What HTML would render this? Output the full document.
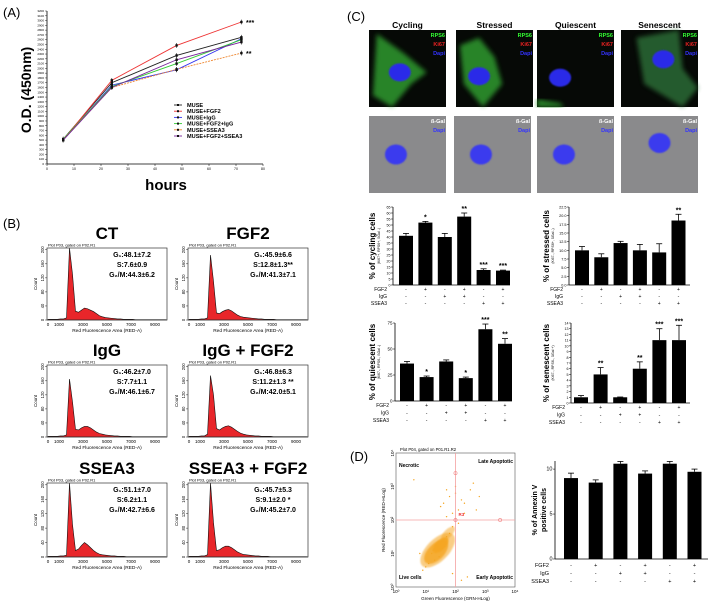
<!DOCTYPE html>
<html><head><meta charset="utf-8">
<style>
html,body{margin:0;padding:0;background:#fff;}
svg{display:block;font-family:"Liberation Sans",Arial,sans-serif;}
</style></head>
<body>
<svg id="fig" width="709" height="606" viewBox="0 0 709 606" xmlns="http://www.w3.org/2000/svg">
<defs>
<filter id="blur2"><feGaussianBlur stdDeviation="2.5"/></filter>
<filter id="blur1"><feGaussianBlur stdDeviation="0.8"/></filter>
</defs>
<text x="3" y="17" font-size="13">(A)</text>
<text x="3" y="228" font-size="13">(B)</text>
<text x="347" y="21" font-size="13">(C)</text>
<text x="350" y="461" font-size="13">(D)</text>
</svg>
<script>
// ===== Panel A data =====
const aHours=[6,24,48,72];
const aMuse=[520,1700,2270,2650];
const aFgf2=[500,1750,2480,2970];
const aIgg=[500,1650,1970,2620];
const aFgf2Igg=[520,1620,2100,2600];
const aSsea3=[510,1600,1980,2320];
const aFgf2Ssea3=[500,1600,2180,2550];
const aSeriesNames=["MUSE","MUSE+FGF2","MUSE+IgG","MUSE+FGF2+IgG","MUSE+SSEA3","MUSE+FGF2+SSEA3"];
const aXTicks=[0,10,20,30,40,50,60,70,80];
// ===== Panel B data (counts per 250-unit bin) =====
const bTitles=["CT","FGF2","IgG","IgG + FGF2","SSEA3","SSEA3 + FGF2"];
const bG1=["48.1±7.2","45.9±6.6","46.2±7.0","46.8±6.3","51.1±7.0","45.7±5.3"];
const bS=["7.6±0.9","12.8±1.3**","7.7±1.1","11.2±1.3 **","6.2±1.1","9.1±2.0  *"];
const bG2=["44.3±6.2","41.3±7.1","46.1±6.7","42.0±5.1","42.7±6.6","45.2±7.0"];
const bHistCT=[2,2,2,2,3,3,6,210,130,25,22,28,34,32,28,24,18,12,9,7,6,5,4,3,3,2,2,2,2,1,1,1,1,1,1,1,1,1,1,1];
const bHistFGF2=[2,2,2,2,3,3,6,185,110,20,18,24,28,30,26,20,14,10,8,7,6,5,4,3,3,2,2,2,2,1,1,1,1,1,1,1,1,1,1,1];
const bHistIgG=[2,2,2,2,3,3,6,165,100,22,20,26,30,30,26,20,14,10,8,6,5,4,3,3,2,2,2,2,1,1,1,1,1,1,1,1,1,1,1,1];
const bHistIgGFGF2=[2,2,2,2,3,3,8,175,120,24,20,26,30,32,28,22,16,11,8,6,5,4,3,3,2,2,2,2,1,1,1,1,1,1,1,1,1,1,1,1];
const bHistSSEA3=[2,2,2,2,3,3,5,210,90,18,22,32,40,34,26,18,12,8,6,5,4,3,3,2,2,2,1,1,1,1,1,1,1,1,1,1,1,1,1,1];
const bHistSSEA3FGF2=[2,2,2,2,3,3,6,205,95,18,20,26,30,30,26,20,14,10,7,6,5,4,3,3,2,2,2,1,1,1,1,1,1,1,1,1,1,1,1,1];
const bXTicks=[0,1000,3000,5000,7000,9000];
const bYTicks=[0,40,80,120,160,200];
// ===== Panel C data =====
const cGroupLabels=["FGF2","IgG","SSEA3"];
const cSigns=[["-","+","-","+","-","+"],["-","-","+","+","-","-"],["-","-","-","-","+","+"]];
const cCycling=[41,52,40,57,12.5,12];
const cCyclingErr=[2,1,3,3,1,0.4];
const cCyclingStars=["","*","","**","***","***"];
const cCyclingTicks=[0,5,10,15,20,25,30,35,40,45,50,55,60,65];
const cStressed=[10,8,12.1,10,9.4,18.6];
const cStressedErr=[1.1,1,0.5,1.7,2.5,1.8];
const cStressedStars=["","","","","","**"];
const cStressedTicks=[0,2.5,5,7.5,10,12.5,15,17.5,20,22.5];
const cQuiescent=[36,23,38,22,69,55];
const cQuiescentErr=[2,1,1.5,1,5,5];
const cQuiescentStars=["","*","","*","***","**"];
const cQuiescentTicks=[0,25,50,75];
const cSenescent=[1,5,1,6,11,11];
const cSenescentErr=[0.3,1.2,0.05,1.2,2,2.6];
const cSenescentStars=["","**","","**","***","***"];
const cSenescentTicks=[0,1,2,3,4,5,6,7,8,9,10,11,12,13,14];
// ===== Panel D data =====
const dAnnexin=[9,8.5,10.6,9.5,10.6,9.7];
const dAnnexinErr=[0.55,0.3,0.25,0.3,0.25,0.3];
const dAnnexinTicks=[0,5,10];
const dScatterX=[1.2,1.4,1.3,1.5,1.1,1.6,1.0,1.7,1.25,1.45,1.35,0.9,1.8,2.2,2.5,2.1,1.9,2.6,2.3,1.5,1.7,2.0,2.8,0.6,0.8,2.4,1.9,2.2,1.6,1.8,2.3,2.0,1.7,2.7,1.9,2.1];
const dScatterY=[1.0,1.2,0.8,1.3,0.7,1.4,0.6,1.5,1.1,0.9,1.25,0.5,1.6,2.6,2.9,2.3,2.2,3.1,2.5,2.4,2.1,2.8,2.7,3.2,1.0,0.3,0.4,0.2,2.5,2.7,2.2,3.0,2.9,2.3,1.8,1.9];

const svg=document.getElementById('fig');
const NS='http://www.w3.org/2000/svg';
function mk(tag,attrs,parent){const e=document.createElementNS(NS,tag);for(const k in attrs)e.setAttribute(k,attrs[k]);(parent||svg).appendChild(e);return e;}
function nm(el,name){


return el;}
function T(x,y,s,size,o){o=o||{};const e=mk('text',{x:x,y:y,'font-size':size,'text-anchor':o.a||'start','font-weight':o.w||'normal',fill:o.f||'#000'});if(o.r)e.setAttribute('transform','rotate('+o.r+' '+x+' '+y+')');e.textContent=s;return e;}

// ===== Panel A =====
(function(){
const X0=47,X1=263,Y0=164,Y1=11;
const xA=h=>X0+h/80*(X1-X0), yA=v=>Y0-v/3200*(Y0-Y1);
let e;
e=mk('line',{x1:X0,y1:Y0,x2:X1,y2:Y0,stroke:'#000','stroke-width':0.8});nm(e,'a-x-axis');
e=mk('line',{x1:X0,y1:Y0,x2:X0,y2:Y1,stroke:'#000','stroke-width':0.8});nm(e,'a-y-axis');
for(let v=0;v<=3200;v+=100){e=mk('line',{x1:X0-2,y1:yA(v),x2:X0,y2:yA(v),stroke:'#000','stroke-width':0.4});nm(e,'a-y-tick');
e=T(X0-3,yA(v)+1,String(v),3,{a:'end'});nm(e,'a-y-tick-label');}
aXTicks.forEach(t=>{e=mk('line',{x1:xA(t),y1:Y0,x2:xA(t),y2:Y0+2,stroke:'#000','stroke-width':0.5});nm(e,'a-x-tick');
e=T(xA(t),Y0+6,String(t),3.5,{a:'middle'});nm(e,'a-x-tick-label');});
e=T(31,90,'O.D. (450nm)',14,{a:'middle',w:'bold',r:-90});nm(e,'a-y-axis-title');
e=T(166,190,'hours',15,{a:'middle',w:'bold'});nm(e,'a-x-axis-title');
const series=[aMuse,aFgf2,aIgg,aFgf2Igg,aSsea3,aFgf2Ssea3];
const cols=['#222','#e33','#33e','#3c3','#e83','#729'];
series.forEach((s,i)=>{
 const pts=s.map((v,j)=>xA(aHours[j])+','+yA(v)).join(' ');
 e=mk('polyline',{points:pts,fill:'none',stroke:cols[i],'stroke-width':0.9,'stroke-dasharray':i==4?'2,1':'none'});nm(e,'a-line-'+aSeriesNames[i].toLowerCase().replace(/\+/g,'-'));
 s.forEach((v,j)=>{e=mk('rect',{x:xA(aHours[j])-1.2,y:yA(v)-1.2,width:2.4,height:2.4,fill:'#111'});nm(e,'a-point');
 e=mk('line',{x1:xA(aHours[j]),y1:yA(v+50),x2:xA(aHours[j]),y2:yA(v-50),stroke:'#111','stroke-width':0.6});nm(e,'a-error-bar');});
});
e=T(246,25,'***',7,{w:'bold'});nm(e,'a-sig-fgf2');
e=T(246,56,'**',7,{w:'bold'});nm(e,'a-sig-ssea3');
aSeriesNames.forEach((n,i)=>{const y=107+i*6.2;
 e=mk('line',{x1:174,y1:y-2,x2:182,y2:y-2,stroke:cols[i],'stroke-width':0.9});nm(e,'a-legend-swatch');
 e=mk('rect',{x:177,y:y-3,width:2,height:2,fill:'#111'});nm(e,'a-legend-marker');
 e=T(187,y,n,5.6,{w:'bold'});nm(e,'a-legend-entry');});
})();

// ===== Panel B =====
(function(){
const hists=[bHistCT,bHistFGF2,bHistIgG,bHistIgGFGF2,bHistSSEA3,bHistSSEA3FGF2];
const rows=[[248,320],[365,437],[483,557]], cols=[[47,167],[188,308]];
hists.forEach((h,i)=>{
 const [bx0,bx1]=cols[i%2],[by0,by1]=rows[Math.floor(i/2)];
 const xs=v=>bx0+v/10000*(bx1-bx0), ys=c=>by1-Math.min(c,205)/205*(by1-by0);
 let e;
 e=T((bx0+bx1)/2,by0-9,bTitles[i],17,{a:'middle',w:'bold'});nm(e,'b-title');
 e=T(bx0+1,by0-1.5,'Plot P03, gated on P02.R1',4,{});nm(e,'b-plot-caption');
 let d='M'+xs(0)+','+by1;
 h.forEach((c,k)=>{d+=' L'+xs(k*250+125)+','+ys(c);});
 d+=' L'+xs(10000)+','+by1+' Z';
 e=mk('path',{d:d,fill:'#e8262a',stroke:'#111','stroke-width':0.6});nm(e,'b-histogram');
 e=mk('rect',{x:bx0,y:by0,width:bx1-bx0,height:by1-by0,fill:'none',stroke:'#333','stroke-width':0.7});nm(e,'b-plot-frame');
 bYTicks.forEach(t=>{const y=by1-t/205*(by1-by0);
  e=mk('line',{x1:bx0-2,y1:y,x2:bx0,y2:y,stroke:'#000','stroke-width':0.4});nm(e,'b-y-tick');
  e=T(bx0-3,y,String(t),4.2,{a:'middle',r:-90});nm(e,'b-y-tick-label');});
 e=T(bx0-10,(by0+by1)/2,'Count',4.5,{a:'middle',r:-90});nm(e,'b-y-axis-title');
 bXTicks.forEach(t=>{e=T(xs(t)+(t==0?1:0),by1+6,String(t),4.5,{a:'middle'});nm(e,'b-x-tick-label');});
 e=T((bx0+bx1)/2,by1+12,'Red Fluorescence Area (RED-A)',4.8,{a:'middle'});nm(e,'b-x-axis-title');
 const tx=(bx0+bx1)/2+25;
 e=T(tx,by0+9,'G\u2081:'+bG1[i],7,{a:'middle',w:'bold'});nm(e,'b-g1-stat');
 e=T(tx,by0+19,'S:'+bS[i],7,{a:'middle',w:'bold'});nm(e,'b-s-stat');
 e=T(tx,by0+29,'G\u2082/M:'+bG2[i],7,{a:'middle',w:'bold'});nm(e,'b-g2m-stat');
});
})();

// ===== Panel C images =====
(function(){
const titles=["Cycling","Stressed","Quiescent","Senescent"];
const xs=[[369,446],[456,533],[537,614],[621,698]];
const nuc=[[0.4,0.55],[0.3,0.6],[0.3,0.62],[0.55,0.38]];
const greens=[
 [[0.1,0.05],[0.45,0.3],[0.75,0.55],[0.55,0.7],[0.3,1.0],[0.05,0.85]],
 [[0.05,0.2],[0.3,0.1],[0.5,0.35],[0.6,0.7],[0.35,1.0],[0.1,0.7]],
 [[0.0,0.9],[0.3,0.95],[0.35,1.0],[0.0,1.0]],
 [[0.2,0.1],[0.75,0.0],[0.8,0.5],[1.0,0.75],[0.8,1.0],[0.3,0.7]]];
xs.forEach((c,i)=>{let e;const w=c[1]-c[0];
 e=T((c[0]+c[1])/2,28,titles[i],8.5,{a:'middle',w:'bold'});nm(e,'c-image-title');
 e=mk('rect',{x:c[0],y:30,width:w,height:77,fill:'#060906'});nm(e,'c-fluorescence-image');
 const pts=greens[i].map(p=>(c[0]+p[0]*w)+','+(30+p[1]*77)).join(' ');
 e=mk('polygon',{points:pts,fill:i==3?'#2a6a35':'#2f9a2f',opacity:0.85,filter:'url(#blur2)'});nm(e,'c-cell-cytoplasm');
 e=mk('ellipse',{cx:c[0]+w*nuc[i][0],cy:30+77*nuc[i][1],rx:11,ry:9,fill:'#2b2be8',filter:'url(#blur1)'});nm(e,'c-nucleus');
 e=T(c[1]-1,37,'RPS6',5.5,{a:'end',w:'bold',f:'#3f3'});nm(e,'c-label-rps6');
 e=T(c[1]-1,46,'Ki67',5.5,{a:'end',w:'bold',f:'#e22'});nm(e,'c-label-ki67');
 e=T(c[1]-1,55,'Dapi',5.5,{a:'end',w:'bold',f:'#33f'});nm(e,'c-label-dapi');
 const bx=i==1?454:c[0];
 e=mk('rect',{x:bx,y:116,width:w,height:77,fill:'#8a8a8c'});nm(e,'c-bgal-image');
 e=mk('ellipse',{cx:bx+w*(i==3?0.5:0.35),cy:116+77*(i==3?0.35:0.5),rx:11,ry:10,fill:'#3a3aee',filter:'url(#blur1)'});nm(e,'c-bgal-nucleus');
 e=T(bx+w-1,123,'ß-Gal',5.5,{a:'end',w:'bold',f:'#fff'});nm(e,'c-label-bgal');
 e=T(bx+w-1,132,'Dapi',5.5,{a:'end',w:'bold',f:'#33f'});nm(e,'c-label-dapi');
});
})();

// ===== Bar chart helper =====
function barChart(o){
 const ys=v=>o.y0-v/o.max*(o.y0-o.yTop);
 let e;
 e=mk('line',{x1:o.ax,y1:o.y0,x2:o.ax,y2:o.yTop,stroke:'#000','stroke-width':0.8});nm(e,o.n+'-y-axis');
 e=mk('line',{x1:o.ax,y1:o.y0,x2:o.axEnd,y2:o.y0,stroke:'#000','stroke-width':0.8});nm(e,o.n+'-x-axis');
 o.ticks.forEach(t=>{e=mk('line',{x1:o.ax-2,y1:ys(t),x2:o.ax,y2:ys(t),stroke:'#000','stroke-width':0.5});nm(e,o.n+'-y-tick');
  e=T(o.ax-2.5,ys(t)+1.5,o.fmt?o.fmt(t):String(t),o.tf||4.5,{a:'end'});nm(e,o.n+'-y-tick-label');});
 o.vals.forEach((v,i)=>{const cx=o.c0+i*o.step;
  e=mk('line',{x1:cx,y1:ys(v),x2:cx,y2:ys(v+o.errs[i]),stroke:'#000','stroke-width':0.8});nm(e,o.n+'-error-bar');
  e=mk('line',{x1:cx-3,y1:ys(v+o.errs[i]),x2:cx+3,y2:ys(v+o.errs[i]),stroke:'#000','stroke-width':0.8});nm(e,o.n+'-error-cap');
  e=mk('rect',{x:cx-o.bw/2,y:ys(v),width:o.bw,height:o.y0-ys(v),fill:'#000'});nm(e,o.n+'-bar-'+(i+1));
  if(o.stars&&o.stars[i]){e=T(cx,ys(v+o.errs[i])-2,o.stars[i],7,{a:'middle',w:'bold'});nm(e,o.n+'-sig-marker');}
 });
 cGroupLabels.forEach((g,r)=>{const y=o.y0+o.ly+r*o.lstep;
  e=T(o.ax-6,y,g,o.lf||5,{a:'end'});nm(e,o.n+'-row-label');
  cSigns[r].forEach((s,i)=>{e=T(o.c0+i*o.step,y,s,o.lf||5,{a:'middle'});nm(e,o.n+'-sign');});});
 e=T(o.tx,(o.y0+o.yTop)/2,o.title,o.tsize||8,{a:'middle',w:'bold',r:-90});nm(e,o.n+'-y-axis-title');
 if(o.sub){e=T(o.tx+5,(o.y0+o.yTop)/2,o.sub,3.5,{a:'middle',r:-90});nm(e,o.n+'-y-axis-subtitle');}
}
barChart({n:'cycling',ax:393,axEnd:510,y0:285,yTop:207,max:65,c0:406,step:19.4,bw:14,vals:cCycling,errs:cCyclingErr,stars:cCyclingStars,ticks:cCyclingTicks,tf:3.6,ly:6,lstep:7,title:'% of cycling cells',sub:'(Ki67+, RPS6+, ßGal -)',tx:375});
barChart({n:'stressed',ax:569,axEnd:690,y0:285,yTop:207,max:22.5,c0:582,step:19.3,bw:14,vals:cStressed,errs:cStressedErr,stars:cStressedStars,ticks:cStressedTicks,fmt:t=>t.toFixed(1),tf:3.8,ly:6,lstep:7,title:'% of stressed cells',sub:'(Ki67-, RPS6+, ßGal -)',tx:549});
barChart({n:'quiescent',ax:395,axEnd:512,y0:401,yTop:323,max:75,c0:407,step:19.6,bw:14,vals:cQuiescent,errs:cQuiescentErr,stars:cQuiescentStars,ticks:cQuiescentTicks,tf:4.5,ly:6,lstep:7.5,title:'% of quiescent cells',sub:'(Ki67-, RPS6-, ßGal -)',tx:375});
barChart({n:'senescent',ax:571,axEnd:690,y0:403,yTop:323,max:14,c0:581,step:19.6,bw:14,vals:cSenescent,errs:cSenescentErr,stars:cSenescentStars,ticks:cSenescentTicks,tf:3.6,ly:6,lstep:7.5,title:'% of senescent cells',sub:'(Ki67-, RPS6-, ßGal +)',tx:549});
barChart({n:'annexin',ax:555,axEnd:708,y0:559,yTop:461,max:10.9,c0:571,step:24.7,bw:14,vals:dAnnexin,errs:dAnnexinErr,stars:null,ticks:dAnnexinTicks,tf:5.5,ly:8,lstep:8,lf:5.5,title:'% of Annexin V',tsize:7,tx:537});
(function(){const e=T(546,510,'positive cells',7,{a:'middle',w:'bold',r:-90});nm(e,'annexin-y-axis-title-line2');})();

// ===== Panel D scatter =====
(function(){
const X0=396,X1=515,Y0=587,Y1=453;
const xs=l=>X0+l/4*(X1-X0), ys=l=>Y0-l/4*(Y0-Y1);
let e;
e=T(X0+4,Y1-2,'Plot P04, gated on P01.R1.R2',4.2,{});nm(e,'d-plot-caption');
e=mk('rect',{x:X0,y:Y1,width:X1-X0,height:Y0-Y1,fill:'#fff',stroke:'#555','stroke-width':0.6});nm(e,'d-plot-frame');
const blobs=[[1.4,1.1,22,11,0.55],[1.35,1.05,15,8,0.8],[1.5,1.25,10,5,0.9],[1.75,1.6,9,4,0.5]];
blobs.forEach(b=>{e=mk('ellipse',{cx:xs(b[0]),cy:ys(b[1]),rx:b[2],ry:b[3],fill:'#f5a623',opacity:b[4],transform:'rotate(-45 '+xs(b[0])+' '+ys(b[1])+')',filter:'url(#blur1)'});nm(e,'d-density-cloud');});
dScatterX.forEach((x,i)=>{e=mk('circle',{cx:xs(x),cy:ys(dScatterY[i]),r:0.7,fill:'#f5a623'});nm(e,'d-event-dot');});
e=mk('line',{x1:xs(2),y1:Y1,x2:xs(2),y2:Y0,stroke:'#f4a0a0','stroke-width':0.8});nm(e,'d-gate-vertical');
e=mk('line',{x1:X0,y1:ys(2),x2:X1,y2:ys(2),stroke:'#f4a0a0','stroke-width':0.8});nm(e,'d-gate-horizontal');
[[2,3.4],[2,2],[3.5,2]].forEach(p=>{e=mk('circle',{cx:xs(p[0]),cy:ys(p[1]),r:1.6,fill:'none',stroke:'#f08080','stroke-width':0.6});nm(e,'d-gate-handle');});
e=T(xs(2)+3,ys(2)-4,'R3',4.5,{f:'#e33',w:'bold'});nm(e,'d-gate-label');
e=T(X0+3,Y1+14,'Necrotic',5,{w:'bold'});nm(e,'d-quadrant-necrotic');
e=T(X1-2,Y1+10,'Late Apoptotic',5,{a:'end',w:'bold'});nm(e,'d-quadrant-late-apoptotic');
e=T(X0+3,Y0-8,'Live cells',5,{w:'bold'});nm(e,'d-quadrant-live');
e=T(X1-2,Y0-8,'Early Apoptotic',5,{a:'end',w:'bold'});nm(e,'d-quadrant-early-apoptotic');
[0,1,2,3,4].forEach(k=>{e=T(xs(k),Y0+6,'10'+['\u2070','\u00b9','\u00b2','\u00b3','\u2074'][k],4.5,{a:'middle'});nm(e,'d-x-tick-label');
 e=T(X0-2,ys(k),'10'+['\u2070','\u00b9','\u00b2','\u00b3','\u2074'][k],4.5,{a:'middle',r:-90});nm(e,'d-y-tick-label');});
e=T((X0+X1)/2,Y0+13,'Green Fluorescence (GRN-HLog)',4.6,{a:'middle'});nm(e,'d-x-axis-title');
e=T(385,(Y0+Y1)/2,'Red Fluorescence (RED-HLog)',4.6,{a:'middle',r:-90});nm(e,'d-y-axis-title');
})();
</script>
</body></html>
